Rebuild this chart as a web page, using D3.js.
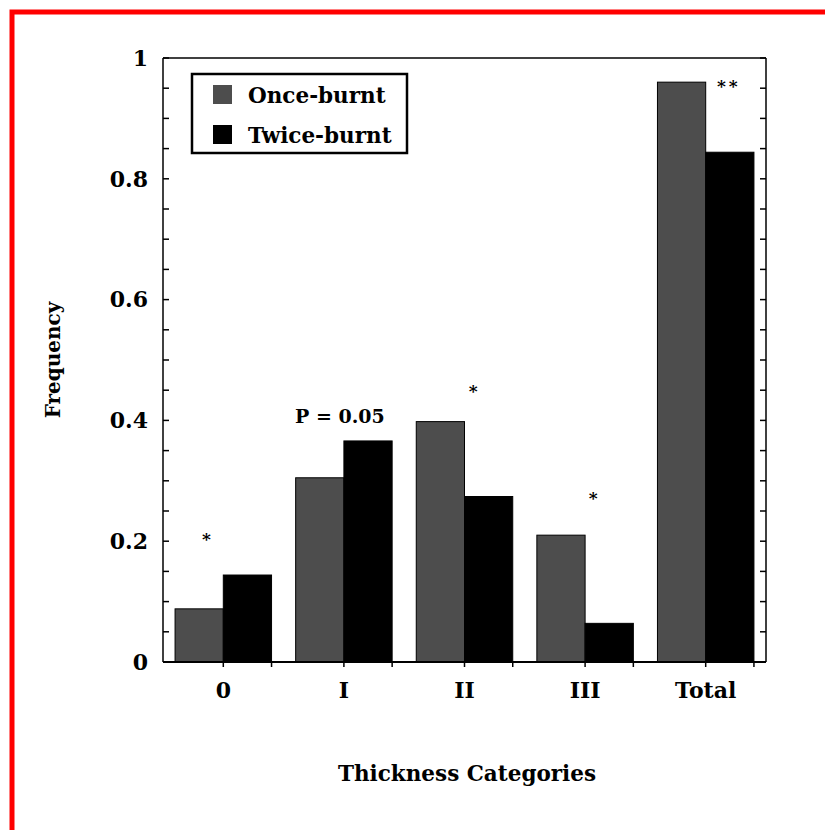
<!DOCTYPE html>
<html>
<head>
<meta charset="utf-8">
<script src="https://cdn.jsdelivr.net/npm/d3@7"></script>
<style>
body { margin: 0; background: #fff; }
text { font-family: "DejaVu Serif", serif; font-weight: bold; fill: #000; }
</style>
</head>
<body>
<script>
var categories = ["0", "I", "II", "III", "Total"]
var series = ["Once-burnt", "Twice-burnt"]
var onceBurnt = [0.088, 0.305, 0.398, 0.210, 0.960]
var twiceBurnt = [0.144, 0.366, 0.274, 0.064, 0.844]
var yTicks = [0, 0.2, 0.4, 0.6, 0.8, 1]
var notes = ["*", "P = 0.05", "*", "*", "**"]
var noteValues = [0.194, 0.396, 0.439, 0.262, 0.944]
var colors = ["#4d4d4d", "#000000"]

var width = 825, height = 830
var plotL = 163, plotR = 766, plotT = 58, plotB = 662
// where each note sits across its group, in bar widths
var noteShift = [0.65, 1.0, 1.18, 1.17, 1.48]

var svg = d3.select("body").append("svg")
	.attr("width", width)
	.attr("height", height)

// red frame
svg.append("rect")
	.attr("x", 12).attr("y", 12)
	.attr("width", 900).attr("height", 900)
	.attr("fill", "none")
	.attr("stroke", "#ff0000")
	.attr("stroke-width", 5)

var x = d3.scaleBand()
	.domain(categories)
	.range([plotL, plotR])
	.paddingInner(0.2)
	.paddingOuter(0.1)

var xs = d3.scaleBand()
	.domain(series)
	.range([0, x.bandwidth()])

var y = d3.scaleLinear()
	.domain([0, 1])
	.range([plotB, plotT])

var rows = categories.map(function(c, i){
	return {cat: c, values: [onceBurnt[i], twiceBurnt[i]]}
})

// bars
var groups = svg.selectAll("g.grp")
	.data(rows)
	.enter().append("g")
	.attr("class", "grp")
	.attr("transform", function(d){ return "translate(" + x(d.cat) + ",0)" })

groups.selectAll("rect")
	.data(function(d){ return d.values.map(function(v, j){ return {s: series[j], v: v, j: j} }) })
	.enter().append("rect")
	.attr("x", function(d){ return xs(d.s) })
	.attr("y", function(d){ return y(d.v) })
	.attr("width", xs.bandwidth())
	.attr("height", function(d){ return y(0) - y(d.v) })
	.attr("fill", function(d){ return colors[d.j] })
	.attr("stroke", "#000")
	.attr("stroke-width", 1)

// axes frame
svg.append("line").attr("x1", plotL).attr("x2", plotL).attr("y1", plotT).attr("y2", plotB)
	.attr("stroke", "#000").attr("stroke-width", 1.5)
svg.append("line").attr("x1", plotR).attr("x2", plotR).attr("y1", plotT).attr("y2", plotB)
	.attr("stroke", "#000").attr("stroke-width", 1.5)
svg.append("line").attr("x1", plotL).attr("x2", plotR).attr("y1", plotT).attr("y2", plotT)
	.attr("stroke", "#000").attr("stroke-width", 1.5)
svg.append("line").attr("x1", plotL).attr("x2", plotR).attr("y1", plotB).attr("y2", plotB)
	.attr("stroke", "#000").attr("stroke-width", 2)

// y ticks (minor every 0.05) on both sides, pointing in
var minor = d3.range(0, 1.0001, 0.05)
svg.selectAll("line.yl")
	.data(minor)
	.enter().append("line")
	.attr("class", "yl")
	.attr("x1", plotL).attr("x2", plotL + 6)
	.attr("y1", function(d){ return y(d) }).attr("y2", function(d){ return y(d) })
	.attr("stroke", "#000").attr("stroke-width", 1.5)
svg.selectAll("line.yr")
	.data(minor)
	.enter().append("line")
	.attr("class", "yr")
	.attr("x1", plotR - 6).attr("x2", plotR)
	.attr("y1", function(d){ return y(d) }).attr("y2", function(d){ return y(d) })
	.attr("stroke", "#000").attr("stroke-width", 1.5)

svg.selectAll("text.ytick")
	.data(yTicks)
	.enter().append("text")
	.attr("class", "ytick")
	.attr("x", plotL - 15)
	.attr("y", function(d){ return y(d) })
	.attr("dy", "0.35em")
	.attr("text-anchor", "end")
	.style("font-size", "22px")
	.text(function(d){ return d3.format("")(d) })

// x ticks at group center and group end
svg.selectAll("line.xt")
	.data(categories)
	.enter().append("line")
	.attr("class", "xt")
	.attr("x1", function(d){ return x(d) + x.bandwidth() / 2 })
	.attr("x2", function(d){ return x(d) + x.bandwidth() / 2 })
	.attr("y1", plotB).attr("y2", plotB + 5)
	.attr("stroke", "#000").attr("stroke-width", 1.5)
svg.selectAll("line.xe")
	.data(categories)
	.enter().append("line")
	.attr("class", "xe")
	.attr("x1", function(d){ return x(d) + x.bandwidth() })
	.attr("x2", function(d){ return x(d) + x.bandwidth() })
	.attr("y1", plotB).attr("y2", plotB + 5)
	.attr("stroke", "#000").attr("stroke-width", 1.5)

svg.selectAll("text.xtick")
	.data(categories)
	.enter().append("text")
	.attr("class", "xtick")
	.attr("x", function(d){ return x(d) + x.bandwidth() / 2 })
	.attr("y", 698)
	.attr("text-anchor", "middle")
	.style("font-size", "22px")
	.text(function(d){ return d })

// significance notes
svg.selectAll("text.note")
	.data(categories)
	.enter().append("text")
	.attr("class", "note")
	.attr("x", function(d, i){
		if (i == 1) return x(d) + x.bandwidth() / 2 - 4
		return x(d) + xs.bandwidth() * noteShift[i]
	})
	.attr("y", function(d, i){ return y(noteValues[i]) })
	.attr("text-anchor", "middle")
	.style("font-size", function(d, i){ return i == 1 ? "19px" : "17px" })
	.style("letter-spacing", function(d, i){ return i == 4 ? "3px" : "0px" })
	.text(function(d, i){ return notes[i] })

// axis titles
svg.append("text")
	.attr("x", 467).attr("y", 781)
	.attr("text-anchor", "middle")
	.style("font-size", "21.5px")
	.text("Thickness Categories")

svg.append("text")
	.attr("transform", "translate(60,360) rotate(-90)")
	.attr("text-anchor", "middle")
	.style("font-size", "20px")
	.text("Frequency")

// legend
var legend = svg.append("g")
legend.append("rect")
	.attr("x", 192).attr("y", 74)
	.attr("width", 215).attr("height", 79)
	.attr("fill", "#fff")
	.attr("stroke", "#000")
	.attr("stroke-width", 2.5)

series.forEach(function(s, i){
	legend.append("rect")
		.attr("x", 213).attr("y", 85 + i * 40)
		.attr("width", 19).attr("height", 19)
		.attr("fill", colors[i])
	legend.append("text")
		.attr("x", 248).attr("y", 103 + i * 40)
		.style("font-size", "21.5px")
		.text(s)
})
</script>
</body>
</html>
